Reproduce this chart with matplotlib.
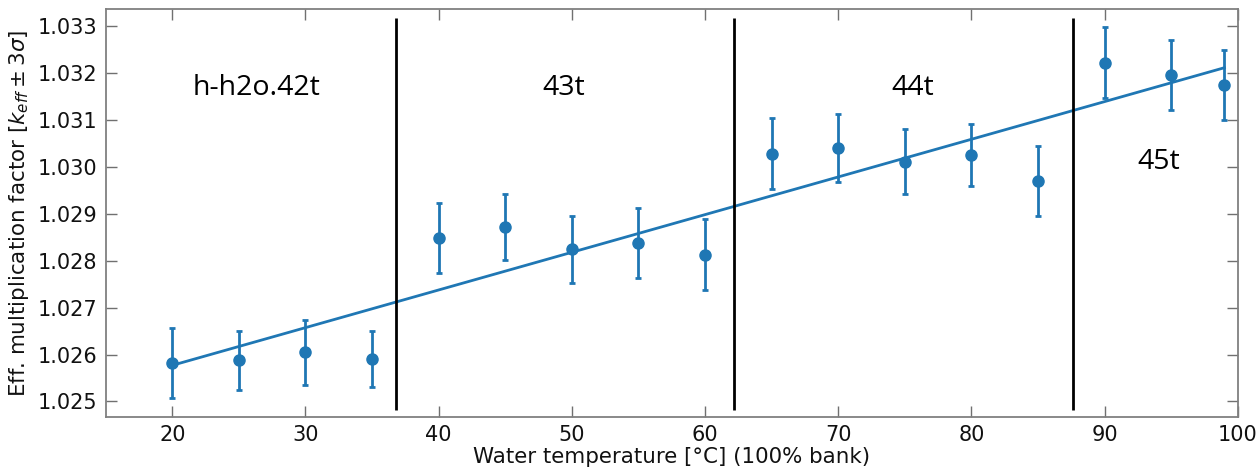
import matplotlib
matplotlib.use("Agg")
import matplotlib.pyplot as plt
import numpy as np

# Data
temps = [20, 25, 30, 35, 40, 45, 50, 55, 60, 65, 70, 75, 80, 85, 90, 95, 99]
keff = [1.02582, 1.02588, 1.02605, 1.02591, 1.02848, 1.02872, 1.02824, 1.02838,
        1.02813, 1.03028, 1.03040, 1.03011, 1.03025, 1.02970, 1.03222, 1.03196, 1.03174]
err3s = [0.00075, 0.00063, 0.00069, 0.00060, 0.00075, 0.00070, 0.00072, 0.00075,
         0.00075, 0.00075, 0.00072, 0.00069, 0.00066, 0.00075, 0.00075, 0.00075, 0.00075]
fit_x = [20, 99]
fit_y = [1.02577, 1.03211]
boundaries = [36.8, 62.2, 87.6]
region_labels = ["h-h2o.42t", "43t", "44t", "45t"]
label_x = [26.3, 49.4, 75.6, 94.1]
label_y = [1.03167, 1.03167, 1.03167, 1.03011]

blue = "#1f77b4"
fig = plt.figure(figsize=(12.6, 4.69), dpi=100)
ax = fig.add_axes([0.0839, 0.111, 0.8984, 0.8697])

ax.errorbar(temps, keff, yerr=err3s, fmt="o", color=blue, ms=8,
            elinewidth=2, capsize=2.5, capthick=2, zorder=3)
ax.plot(fit_x, fit_y, color=blue, lw=2, zorder=2)
ax.vlines(boundaries, 1.02481, 1.03318, color="black", lw=2, zorder=4)

for t, x, y in zip(region_labels, label_x, label_y):
    ax.text(x, y, t, ha="center", va="center", fontsize=20.5,
            family="Open Sans", color="black")

ax.set_xlim(15, 100)
ax.set_ylim(1.02467, 1.03336)
ax.set_xticks([20, 30, 40, 50, 60, 70, 80, 90, 100])
ax.set_yticks(np.arange(1.025, 1.03301, 0.001))
ax.yaxis.set_major_formatter(matplotlib.ticker.FormatStrFormatter("%.3f"))
ax.tick_params(direction="in", length=8, width=1, color="#707070",
               top=True, right=True, labelsize=15, pad=6, labelcolor="#111111")
for s in ax.spines.values():
    s.set_color("#808080")
    s.set_linewidth(1.3)

ax.set_xlabel("Water temperature [°C] (100% bank)", fontsize=15.4, labelpad=1,
              color="#111111")
ax.set_ylabel(r"Eff. multiplication factor [$k_{eff} \pm 3\sigma$]", fontsize=15.4,
              labelpad=5, color="#111111")

fig.savefig("out.png", dpi=100)
